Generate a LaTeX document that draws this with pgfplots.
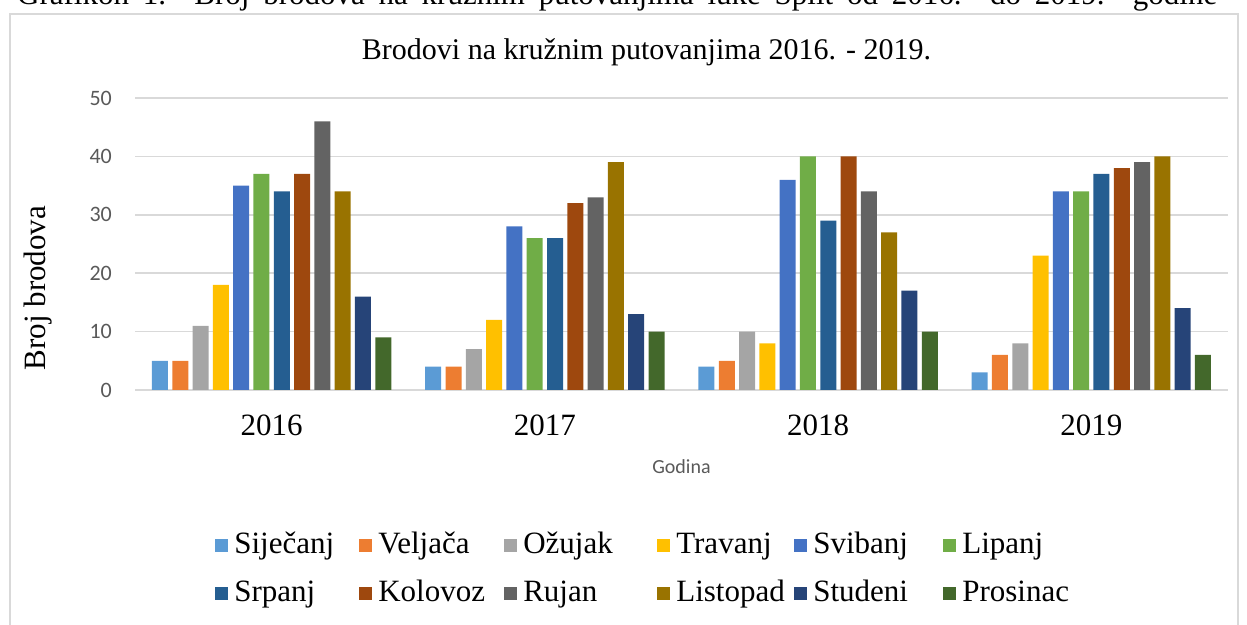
\documentclass[border=0pt]{standalone}
\usepackage{fontspec}
\setmainfont{Liberation Serif}
\newfontfamily\calibri{Carlito}
\usepackage{pgfplots}
\pgfplotsset{compat=1.18}
\usepackage{pgfplotstable}

\definecolor{c1}{HTML}{5B9BD5}
\definecolor{c2}{HTML}{ED7D31}
\definecolor{c3}{HTML}{A5A5A5}
\definecolor{c4}{HTML}{FFC000}
\definecolor{c5}{HTML}{4472C4}
\definecolor{c6}{HTML}{70AD47}
\definecolor{c7}{HTML}{255E91}
\definecolor{c8}{HTML}{9E480E}
\definecolor{c9}{HTML}{636363}
\definecolor{c10}{HTML}{997300}
\definecolor{c11}{HTML}{264478}
\definecolor{c12}{HTML}{43682B}
\definecolor{gridc}{HTML}{D9D9D9}
\definecolor{labc}{HTML}{595959}

% columns: x = year index, then one column per month
\pgfplotstableread{
x  m1 m2 m3 m4 m5 m6 m7 m8 m9 m10 m11 m12
0  5  5  11 18 35 37 34 37 46 34  16  9
1  4  4  7  12 28 26 26 32 33 39  13  10
2  4  5  10 8  36 40 29 40 34 27  17  10
3  3  6  8  23 34 34 37 38 39 40  14  6
}\datatable

\newcommand{\bigtxt}{\fontsize{31bp}{37bp}\selectfont}
\newcommand{\lw}[2]{\makebox[#1][l]{\hspace{6bp}#2}}

\begin{document}
\begin{tikzpicture}
\useasboundingbox (0,0) rectangle (1247bp,625bp);
\begin{scope}
\clip (0,0) rectangle (1247bp,625bp);
\node[anchor=base west, inner sep=0pt] at (17bp,620bp) {\bigtxt\makebox[1200bp][s]{Grafikon 1. Broj brodova na kružnim putovanjima luke Split od 2016. do 2019. godine}};
\draw[gridc, line width=1.5bp] (10bp,-5bp) rectangle (1238bp,611bp);
\end{scope}
\begin{axis}[
  at={(135bp,235bp)}, anchor=south west,
  scale only axis, width=1093bp, height=292bp,
  ybar=4.3bp, bar width=16bp,
  xmin=-0.5, xmax=3.5, ymin=0, ymax=50,
  xtick={0,1,2,3}, xticklabels={2016,2017,2018,2019},
  ytick={0,10,...,50},
  /pgf/number format/assume math mode=true,
  major tick length=0pt,
  axis x line*=bottom, axis y line*=left,
  x axis line style={draw=none}, y axis line style={draw=none},
  ymajorgrids, grid style={gridc, line width=1.5bp},
  xticklabel style={font=\bigtxt, inner sep=0pt, anchor=north, yshift=-25bp},
  yticklabel style={font=\calibri\fontsize{22bp}{26bp}\selectfont, text=labc, inner sep=0pt, anchor=east, xshift=-23bp},
  xlabel={Godina},
  xlabel style={font=\calibri\fontsize{20bp}{24bp}\selectfont, text=labc, at={(axis description cs:0.5,0)}, anchor=center, yshift=-77bp},
  ylabel={Broj brodova},
  ylabel style={font=\bigtxt, at={(axis description cs:-0.0887,0.349)}, anchor=center},
  title={Brodovi na kružnim putovanjima 2016. - 2019.},
  title style={font=\fontsize{30bp}{36bp}\selectfont, at={(axis description cs:0.468,1.135)}, anchor=center},
  legend columns=6,
  legend style={draw=none, fill=none, inner sep=0pt, column sep=0pt, row sep=16bp,
    at={(axis description cs:0.0733,-0.476)}, anchor=north west,
    nodes={font=\bigtxt, inner xsep=0pt, inner ysep=0pt, text height=24bp, text depth=8bp}},
  legend cell align=left,
  legend image code/.code={\fill[#1, draw=none] (0bp,-6.5bp) rectangle (13bp,6.5bp);},
  every axis plot/.append style={draw=none},
]
\addplot[fill=c1] table[x=x,y=m1] {\datatable};
\addplot[fill=c2] table[x=x,y=m2] {\datatable};
\addplot[fill=c3] table[x=x,y=m3] {\datatable};
\addplot[fill=c4] table[x=x,y=m4] {\datatable};
\addplot[fill=c5] table[x=x,y=m5] {\datatable};
\addplot[fill=c6] table[x=x,y=m6] {\datatable};
\addplot[fill=c7] table[x=x,y=m7] {\datatable};
\addplot[fill=c8] table[x=x,y=m8] {\datatable};
\addplot[fill=c9] table[x=x,y=m9] {\datatable};
\addplot[fill=c10] table[x=x,y=m10] {\datatable};
\addplot[fill=c11] table[x=x,y=m11] {\datatable};
\addplot[fill=c12] table[x=x,y=m12] {\datatable};
\legend{\lw{131bp}{Siječanj},\lw{132bp}{Veljača},\lw{140bp}{Ožujak},\lw{124bp}{Travanj},\lw{136bp}{Svibanj},\lw{120bp}{Lipanj},
        \lw{131bp}{Srpanj},\lw{132bp}{Kolovoz},\lw{140bp}{Rujan},\lw{124bp}{Listopad},\lw{136bp}{Studeni},\lw{120bp}{Prosinac}}
\end{axis}
\end{tikzpicture}
\end{document}
